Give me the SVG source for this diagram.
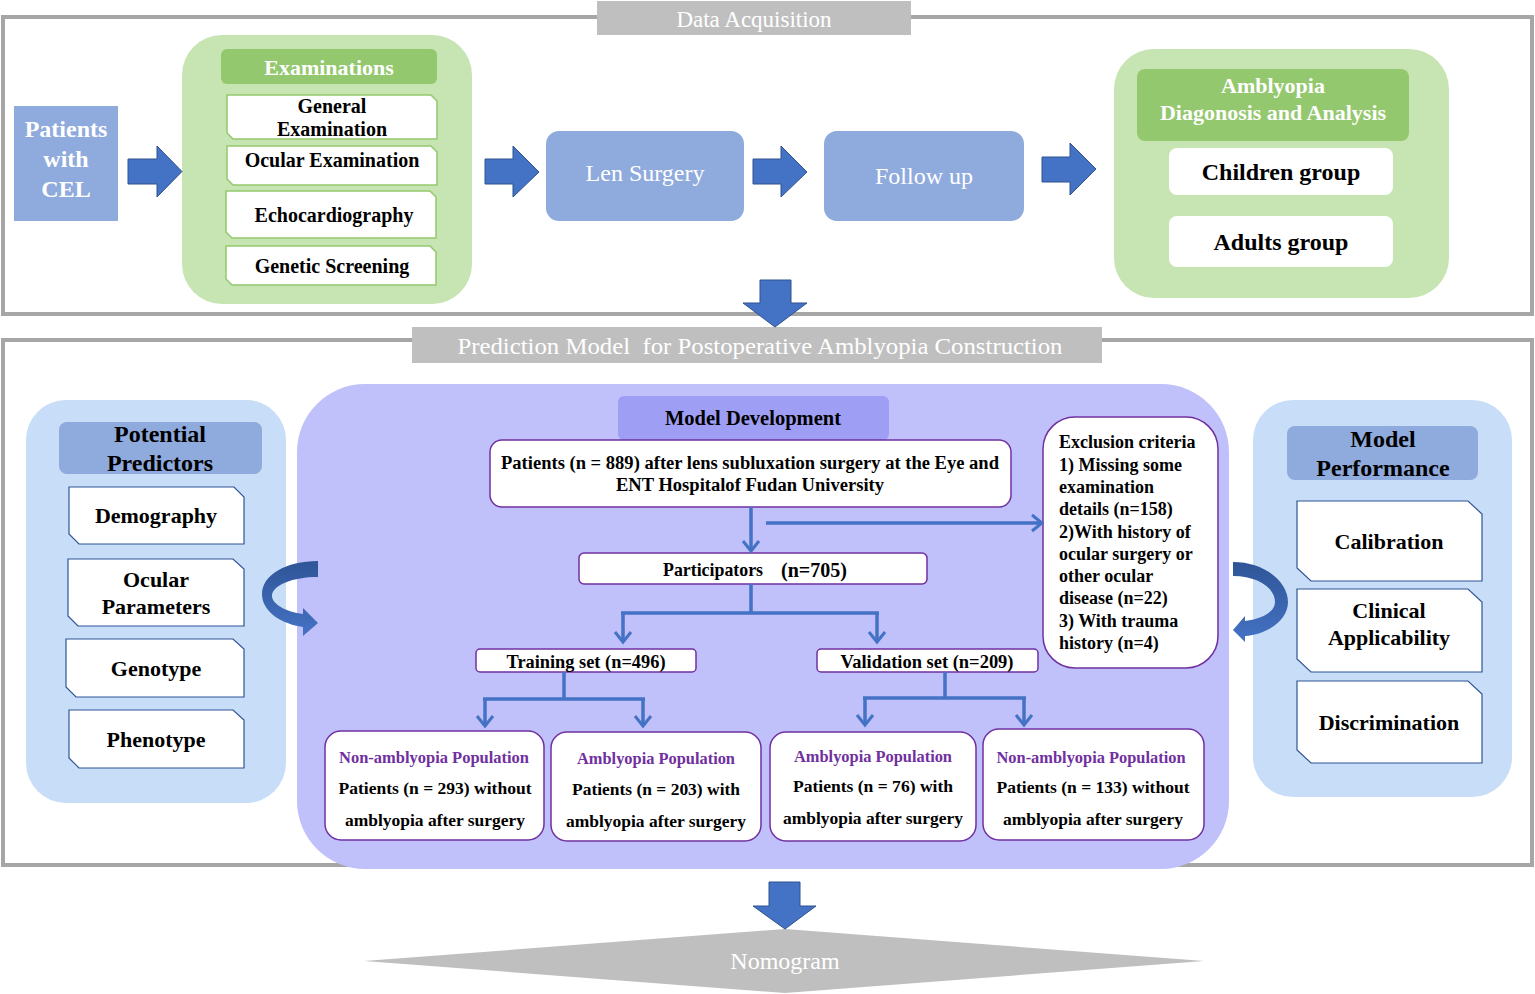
<svg xmlns="http://www.w3.org/2000/svg" width="1535" height="994" viewBox="0 0 1535 994">
<defs>
<style>
text{font-family:"Liberation Serif","Times New Roman",serif;fill:#000}
.b{font-weight:bold}
.m{text-anchor:middle}
.w{fill:#fff}
.frame{fill:none;stroke:#a6a6a6;stroke-width:4}
.lbl{fill:#bfbfbf}
.blk{fill:#4472c4;stroke:#2f528f;stroke-width:1}
.bluebox{fill:#8faadc}
.green{fill:#c7e4b3}
.greenh{fill:#94c86e}
.gitem{fill:#fff;stroke:#94c86e;stroke-width:1.5}
.lblue{fill:#c8ddf7}
.bhead{fill:#8faadc}
.bitem{fill:#fff;stroke:#2f5597;stroke-width:1.2}
.lav{fill:#c0c0fb}
.lavh{fill:#9e9ef5}
.pbox{fill:#fff;stroke:#7030a0;stroke-width:1.5}
.conn{fill:none;stroke:#4472c4;stroke-width:3.5}
.pt{fill:#7030a0}
</style>
<marker id="v" markerWidth="20" markerHeight="20" refX="11" refY="10" orient="auto" markerUnits="userSpaceOnUse">
<path d="M1,2 L11,10 L1,18" fill="none" stroke="#4472c4" stroke-width="3"/>
</marker>
<linearGradient id="cg" x1="0" y1="0" x2="0" y2="1">
<stop offset="0" stop-color="#2f5597"/>
<stop offset="1" stop-color="#4472c4"/>
</linearGradient>
</defs>

<rect width="1535" height="994" fill="#fff"/>

<g id="section-data-acquisition">
<rect class="frame" x="3" y="17" width="1529" height="297"/>
<rect class="lbl" x="597" y="1" width="314" height="34"/>
<text class="w m" x="754" y="27" font-size="23">Data Acquisition</text>
</g>

<g id="section-prediction">
<rect class="frame" x="3" y="340" width="1529" height="525"/>
<rect class="lbl" x="412" y="327" width="690" height="36"/>
<text class="w m" x="760" y="354" font-size="23" textLength="605" lengthAdjust="spacingAndGlyphs" xml:space="preserve">Prediction Model  for Postoperative Amblyopia Construction</text>
</g>

<g id="patients-cel">
<rect class="bluebox" x="14" y="106" width="104" height="115"/>
<text class="w m b" x="66" y="137" font-size="24">Patients</text>
<text class="w m b" x="66" y="167" font-size="24">with</text>
<text class="w m b" x="66" y="197" font-size="24">CEL</text>
</g>

<g id="examinations">
<rect class="green" x="182" y="35" width="290" height="269" rx="40"/>
<rect class="greenh" x="221" y="49" width="216" height="35" rx="6"/>
<text class="w m b" x="329" y="75" font-size="22">Examinations</text>
<path class="gitem" d="M227,95 H431 L437,101 V139 H233 L227,133 Z"/>
<text class="m b" x="332" y="113" font-size="20">General</text>
<text class="m b" x="332" y="136" font-size="20">Examination</text>
<path class="gitem" d="M227,146 H431 L437,152 V185 H233 L227,179 Z"/>
<text class="m b" x="332" y="167" font-size="20">Ocular Examination</text>
<path class="gitem" d="M226,191 H430 L436,197 V238 H232 L226,232 Z"/>
<text class="m b" x="334" y="222" font-size="20">Echocardiography</text>
<path class="gitem" d="M226,246 H430 L436,252 V285 H232 L226,279 Z"/>
<text class="m b" x="332" y="273" font-size="20">Genetic Screening</text>
</g>

<g id="len-surgery">
<rect class="bluebox" x="546" y="131" width="198" height="90" rx="13"/>
<text class="w m" x="645" y="181" font-size="24">Len Surgery</text>
</g>

<g id="follow-up">
<rect class="bluebox" x="824" y="131" width="200" height="90" rx="13"/>
<text class="w m" x="924" y="184" font-size="24">Follow up</text>
</g>

<g id="amblyopia-diagnosis">
<rect class="green" x="1114" y="49" width="335" height="249" rx="40"/>
<rect class="greenh" x="1137" y="69" width="272" height="72" rx="8"/>
<text class="w m b" x="1273" y="93" font-size="22">Amblyopia</text>
<text class="w m b" x="1273" y="120" font-size="22">Diagonosis and Analysis</text>
<rect fill="#fff" x="1169" y="148" width="224" height="47" rx="8"/>
<text class="m b" x="1281" y="180" font-size="24">Children group</text>
<rect fill="#fff" x="1169" y="216" width="224" height="51" rx="8"/>
<text class="m b" x="1281" y="250" font-size="24">Adults group</text>
</g>

<g id="potential-predictors">
<rect class="lblue" x="26" y="400" width="260" height="403" rx="40"/>
<rect class="bhead" x="59" y="422" width="203" height="52" rx="8"/>
<text class="m b" x="160" y="442" font-size="24">Potential</text>
<text class="m b" x="160" y="471" font-size="24">Predictors</text>
<path class="bitem" d="M69,487 H234 L244,497 V544 H79 L69,534 Z"/>
<text class="m b" x="156" y="523" font-size="22">Demography</text>
<path class="bitem" d="M68,559 H233 L244,569 V626 H78 L68,616 Z"/>
<text class="m b" x="156" y="587" font-size="22">Ocular</text>
<text class="m b" x="156" y="614" font-size="22">Parameters</text>
<path class="bitem" d="M66,639 H233 L244,649 V697 H76 L66,687 Z"/>
<text class="m b" x="156" y="676" font-size="22">Genotype</text>
<path class="bitem" d="M69,710 H233 L244,720 V768 H79 L69,758 Z"/>
<text class="m b" x="156" y="747" font-size="22">Phenotype</text>
</g>

<g id="model-performance">
<rect class="lblue" x="1253" y="400" width="259" height="397" rx="40"/>
<rect class="bhead" x="1287" y="426" width="191" height="54" rx="8"/>
<text class="m b" x="1383" y="447" font-size="24">Model</text>
<text class="m b" x="1383" y="476" font-size="24">Performance</text>
<path class="bitem" d="M1297,501 H1468 L1482,514 V581 H1311 L1297,568 Z"/>
<text class="m b" x="1389" y="549" font-size="22">Calibration</text>
<path class="bitem" d="M1297,589 H1468 L1482,602 V672 H1311 L1297,659 Z"/>
<text class="m b" x="1389" y="618" font-size="22">Clinical</text>
<text class="m b" x="1389" y="645" font-size="22">Applicability</text>
<path class="bitem" d="M1297,681 H1468 L1482,694 V763 H1311 L1297,750 Z"/>
<text class="m b" x="1389" y="730" font-size="22">Discrimination</text>
</g>

<g id="model-development">
<rect class="lav" x="297" y="384" width="932" height="485" rx="68"/>
<rect class="lavh" x="618" y="396" width="271" height="44" rx="6"/>
<text class="m b" x="753" y="425" font-size="21" textLength="176" lengthAdjust="spacingAndGlyphs">Model Development</text>
</g>

<g id="patients-889">
<rect class="pbox" x="490" y="440" width="521" height="67" rx="12"/>
<text class="m b" x="750" y="469" font-size="18" textLength="498" lengthAdjust="spacingAndGlyphs">Patients (n = 889) after lens subluxation surgery at the Eye and</text>
<text class="m b" x="750" y="491" font-size="18" textLength="268" lengthAdjust="spacingAndGlyphs">ENT Hospitalof Fudan University</text>
</g>

<g id="exclusion-criteria">
<rect class="pbox" x="1043" y="417" width="175" height="251" rx="32"/>
<text class="b" x="1059" y="448" font-size="18">Exclusion criteria</text>
<text class="b" x="1059" y="471" font-size="18">1) Missing some</text>
<text class="b" x="1059" y="493" font-size="18">examination</text>
<text class="b" x="1059" y="515" font-size="18">details (n=158)</text>
<text class="b" x="1059" y="538" font-size="18">2)With history of</text>
<text class="b" x="1059" y="560" font-size="18">ocular surgery or</text>
<text class="b" x="1059" y="582" font-size="18">other ocular</text>
<text class="b" x="1059" y="604" font-size="18">disease (n=22)</text>
<text class="b" x="1059" y="627" font-size="18">3) With trauma</text>
<text class="b" x="1059" y="649" font-size="18">history (n=4)</text>
</g>

<g id="participators">
<rect class="pbox" x="579" y="553" width="348" height="31" rx="5"/>
<text class="b" x="663" y="576" font-size="19" textLength="100" lengthAdjust="spacingAndGlyphs">Participators</text>
<text class="b" x="781" y="577" font-size="21" textLength="66" lengthAdjust="spacingAndGlyphs">(n=705)</text>
</g>

<g id="training-set">
<rect class="pbox" x="476" y="649" width="220" height="23" rx="4"/>
<text class="m b" x="586" y="668" font-size="18" textLength="159" lengthAdjust="spacingAndGlyphs">Training set (n=496)</text>
</g>

<g id="validation-set">
<rect class="pbox" x="817" y="649" width="221" height="23" rx="4"/>
<text class="m b" x="927" y="668" font-size="18" textLength="173" lengthAdjust="spacingAndGlyphs">Validation set (n=209)</text>
</g>

<g id="train-non-amblyopia">
<rect class="pbox" x="325" y="731" width="219" height="109" rx="16"/>
<text class="m b pt" x="434" y="763" font-size="16.5" textLength="190" lengthAdjust="spacingAndGlyphs">Non-amblyopia Population</text>
<text class="m b" x="435" y="794" font-size="17" textLength="193" lengthAdjust="spacingAndGlyphs">Patients (n = 293) without</text>
<text class="m b" x="435" y="826" font-size="17" textLength="180" lengthAdjust="spacingAndGlyphs">amblyopia after surgery</text>
</g>

<g id="train-amblyopia">
<rect class="pbox" x="551" y="732" width="210" height="109" rx="16"/>
<text class="m b pt" x="656" y="764" font-size="16.5" textLength="158" lengthAdjust="spacingAndGlyphs">Amblyopia Population</text>
<text class="m b" x="656" y="795" font-size="17" textLength="168" lengthAdjust="spacingAndGlyphs">Patients (n = 203) with</text>
<text class="m b" x="656" y="827" font-size="17" textLength="180" lengthAdjust="spacingAndGlyphs">amblyopia after surgery</text>
</g>

<g id="valid-amblyopia">
<rect class="pbox" x="770" y="732" width="206" height="109" rx="16"/>
<text class="m b pt" x="873" y="762" font-size="16.5" textLength="158" lengthAdjust="spacingAndGlyphs">Amblyopia Population</text>
<text class="m b" x="873" y="792" font-size="17" textLength="160" lengthAdjust="spacingAndGlyphs">Patients (n = 76) with</text>
<text class="m b" x="873" y="824" font-size="17" textLength="180" lengthAdjust="spacingAndGlyphs">amblyopia after surgery</text>
</g>

<g id="valid-non-amblyopia">
<rect class="pbox" x="983" y="729" width="221" height="111" rx="16"/>
<text class="m b pt" x="1091" y="763" font-size="16.5" textLength="189" lengthAdjust="spacingAndGlyphs">Non-amblyopia Population</text>
<text class="m b" x="1093" y="793" font-size="17" textLength="193" lengthAdjust="spacingAndGlyphs">Patients (n = 133) without</text>
<text class="m b" x="1093" y="825" font-size="17" textLength="180" lengthAdjust="spacingAndGlyphs">amblyopia after surgery</text>
</g>

<g id="nomogram">
<polygon fill="#bfbfbf" points="364,961 785,929 1204,961 785,993"/>
<text class="w m" x="785" y="969" font-size="24">Nomogram</text>
</g>

<g id="connectors">
<polygon class="blk" points="128,159 157,159 157,146 182,171.5 157,197 157,184 128,184"/>
<polygon class="blk" points="485,159 513,159 513,146 539,172 513,197 513,184 485,184"/>
<polygon class="blk" points="753,159 781,159 781,146 807,172 781,197 781,184 753,184"/>
<polygon class="blk" points="1042,157 1070,157 1070,143 1096,169 1070,195 1070,182 1042,182"/>
<polygon class="blk" points="760,280 791,280 791,303 807,303 775,327 743,303 760,303"/>
<polygon class="blk" points="769,882 800,882 800,906 816,906 785,929 753,906 769,906"/>
<path fill="url(#cg)" d="M318,561 C286,561 262,575 262,594 C262,612 282,624 303,627 L303,636 L318,623 L303,608 L303,614 C286,612 272,604 272,596 C272,585 293,577 318,577 Z"/>
<path fill="url(#cg)" d="M1233,562 C1265,562 1288,582 1288,602 C1288,620 1268,634 1245,636 L1245,642 L1233,630 L1245,616 L1245,621 C1262,619 1275,612 1275,602 C1275,588 1258,576 1233,576 Z"/>
<line class="conn" x1="751" y1="507" x2="751" y2="551" marker-end="url(#v)"/>
<line class="conn" x1="766" y1="523" x2="1042" y2="523" stroke-width="3" marker-end="url(#v)"/>
<path class="conn" d="M751,584 V613 M621,613 H879"/>
<line class="conn" x1="623" y1="613" x2="623" y2="642" marker-end="url(#v)"/>
<line class="conn" x1="877" y1="613" x2="877" y2="642" marker-end="url(#v)"/>
<path class="conn" d="M564,672 V699 M483,699 H645"/>
<line class="conn" x1="485" y1="699" x2="485" y2="726" marker-end="url(#v)"/>
<line class="conn" x1="643" y1="699" x2="643" y2="726" marker-end="url(#v)"/>
<path class="conn" d="M945,672 V698 M863,698 H1026"/>
<line class="conn" x1="865" y1="698" x2="865" y2="725" marker-end="url(#v)"/>
<line class="conn" x1="1024" y1="698" x2="1024" y2="725" marker-end="url(#v)"/>
</g>
</svg>
